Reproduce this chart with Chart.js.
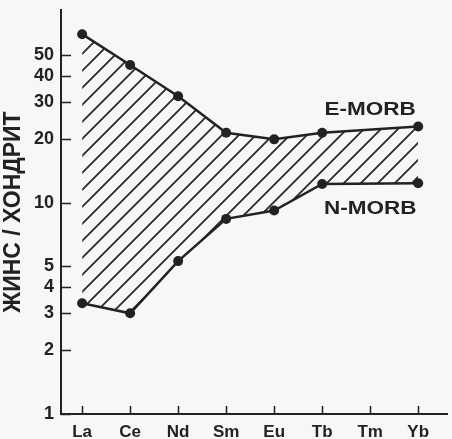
<!DOCTYPE html>
<html>
<head>
<meta charset="utf-8">
<script src="https://cdn.jsdelivr.net/npm/chart.js@4/dist/chart.umd.min.js"></script>
<style>
  html, body { margin: 0; padding: 0; background: #f7f7f5; }
  #wrap { width: 452px; height: 439px; }
</style>
</head>
<body>
<div id="wrap"><canvas id="ree"></canvas></div>
<script>
// REE, chondrite-normalised
const elements = ['La', 'Ce', 'Nd', 'Sm', 'Eu', 'Tb', 'Tm', 'Yb'];
const eMorb = [63, 45, 32, 21.5, 20, 21.5, null, 23];
const nMorb = [3.35, 3.0, 5.3, 8.4, 9.2, 12.3, null, 12.4];
const yTicks = [1, 2, 3, 4, 5, 10, 20, 30, 40, 50];

const INK = '#222';
const FONT = "'Liberation Sans', Arial, sans-serif";

function pts(arr) {
  return arr.map((v, i) => v == null ? null : { x: i, y: v }).filter(Boolean);
}

// diagonal hatch for the MORB field
function hatch() {
  const s = 17, c = document.createElement('canvas');
  c.width = s; c.height = s;
  const g = c.getContext('2d');
  g.strokeStyle = '#2a2a2a';
  g.lineWidth = 1.8;
  g.beginPath();
  g.moveTo(-2, s + 2); g.lineTo(s + 2, -2);
  g.moveTo(-2, 2); g.lineTo(2, -2);
  g.moveTo(s - 2, s + 2); g.lineTo(s + 2, s - 2);
  g.stroke();
  return g.createPattern(c, 'repeat');
}

// inward tick marks + series names
const marks = {
  id: 'marks',
  afterDraw(chart) {
    const { ctx, scales: { x, y } } = chart;
    ctx.save();
    ctx.strokeStyle = INK;
    ctx.lineWidth = 1.5;
    ctx.beginPath();
    yTicks.forEach(v => {
      const py = Math.round(y.getPixelForValue(v)) + 0.5;
      ctx.moveTo(x.left, py); ctx.lineTo(x.left + 10, py);
    });
    elements.forEach((_, i) => {
      const px = Math.round(x.getPixelForValue(i)) + 0.5;
      ctx.moveTo(px, y.bottom); ctx.lineTo(px, y.bottom - 8);
    });
    ctx.stroke();

    ctx.fillStyle = INK;
    ctx.font = 'bold 18px ' + FONT;
    ctx.textAlign = 'center';
    ctx.textBaseline = 'middle';
    const lx = x.getPixelForValue(6);
    const label = (t, py) => {
      ctx.save();
      ctx.translate(lx, py);
      ctx.scale(1.25, 1);
      ctx.fillText(t, 0, 0);
      ctx.restore();
    };
    label('E-MORB', y.getPixelForValue(eMorb[7]) - 17);
    label('N-MORB', y.getPixelForValue(nMorb[7]) + 26);
    ctx.restore();
  }
};

new Chart(document.getElementById('ree'), {
  type: 'line',
  data: {
    datasets: [
      { label: 'N-MORB', data: pts(nMorb), fill: false },
      { label: 'E-MORB', data: pts(eMorb), fill: 0, backgroundColor: hatch() }
    ]
  },
  options: {
    responsive: true,
    maintainAspectRatio: false,
    animation: false,
    layout: { padding: { top: 10, right: 5, left: 0, bottom: 0 } },
    datasets: {
      line: { pointBackgroundColor: INK, pointBorderColor: INK }
    },
    elements: {
      line: { borderColor: INK, borderWidth: 2.5, tension: 0 },
      point: { radius: 5, borderWidth: 0 }
    },
    plugins: { legend: { display: false }, tooltip: { enabled: false } },
    scales: {
      x: {
        type: 'linear',
        min: -0.44, max: 7.6,
        afterBuildTicks: s => { s.ticks = elements.map((_, i) => ({ value: i })); },
        afterFit: s => { s.height = 25; s.paddingLeft = 0; s.paddingRight = 0; },
        grid: { display: false, drawTicks: false },
        border: { display: true, color: INK, width: 2 },
        ticks: {
          callback: v => elements[v],
          color: INK, padding: 8, maxRotation: 0, autoSkip: false,
          font: { family: FONT, size: 17, weight: 'bold' }
        }
      },
      y: {
        type: 'logarithmic',
        min: 1, max: 82,
        afterBuildTicks: s => { s.ticks = yTicks.map(v => ({ value: v })); },
        afterFit: s => { s.width = 61; s.paddingTop = 0; s.paddingBottom = 0; },
        grid: { display: false, drawTicks: false },
        border: { display: true, color: INK, width: 2 },
        ticks: {
          callback: v => String(v),
          color: INK, padding: 7, autoSkip: false,
          font: { family: FONT, size: 18, weight: 'bold' }
        },
        title: {
          display: true, text: 'ЖИНС / ХОНДРИТ', color: INK, padding: 0,
          font: { family: FONT, size: 23, weight: 'bold' }
        }
      }
    }
  },
  plugins: [marks]
});
</script>
</body>
</html>
